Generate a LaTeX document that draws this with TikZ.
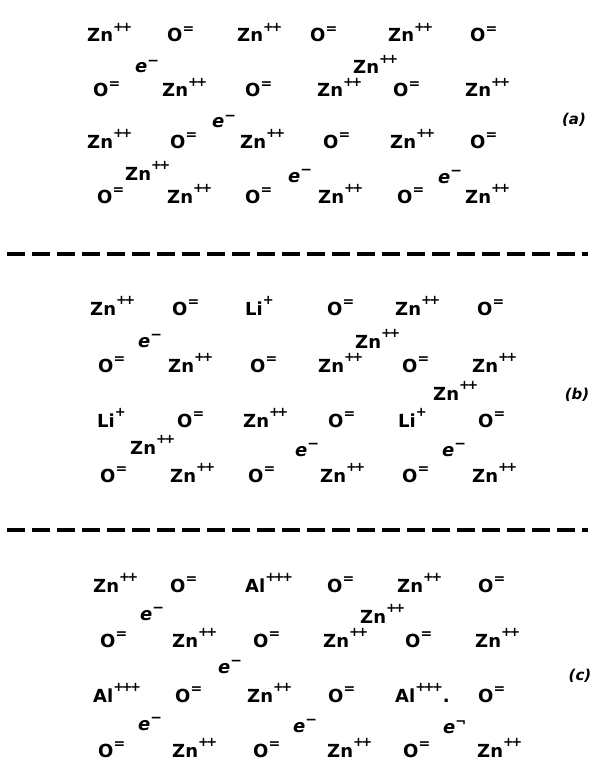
\documentclass[tikz,border=0pt]{standalone}
\usepackage{fontspec}
\setmainfont{DejaVu Sans}
\newcommand\ionsup[1]{\raisebox{10.5pt}{\fontsize{13}{13}\selectfont #1}}
\newcommand\ionsupeq[1]{\raisebox{8.5pt}{\fontsize{14}{14}\selectfont #1}}
\newcommand\ZnI{Zn\ionsup{+\kern-2.5pt+}}
\newcommand\OxI{O\ionsupeq{=}}
\newcommand\ElI{{\itshape e}\raisebox{7.5pt}{\fontsize{14}{14}\selectfont −}}
\newcommand\ElX{{\itshape e}\raisebox{6.5pt}{\fontsize{13}{13}\selectfont ¬}}
\newcommand\LiI{Li\ionsup{+}}
\newcommand\AlI{Al\ionsup{+\kern-2.5pt+\kern-2.5pt+}}
\begin{document}
\begin{tikzpicture}[x=1pt,y=-1pt,
  ion/.style={anchor=base west,inner sep=0pt,font=\bfseries\fontsize{18}{18}\selectfont},
  plabel/.style={anchor=center,inner sep=0pt,font=\bfseries\itshape\fontsize{15}{15}\selectfont},
  sep/.style={line width=3.5pt,dash pattern=on 18pt off 7pt}]
\useasboundingbox (0,0) rectangle (597,765);
% panel (a)
\foreach \x/\y/\t [count=\i] in {
 87/42/\ZnI, 167/42/\OxI, 237/42/\ZnI, 310/42/\OxI, 388/42/\ZnI, 470/42/\OxI,
 93/97/\OxI, 162/97/\ZnI, 245/97/\OxI, 317/97/\ZnI, 393/97/\OxI, 465/97/\ZnI,
 135/73/\ElI, 353/74/\ZnI,
 87/148/\ZnI, 170/148/\OxI, 240/148/\ZnI, 323/148/\OxI, 390/148/\ZnI, 470/148/\OxI,
 212/128/\ElI,
 97/203/\OxI, 167/203/\ZnI, 245/203/\OxI, 318/203/\ZnI, 397/203/\OxI, 465/203/\ZnI,
 125/180/\ZnI, 288/182/\ElI, 438/183/\ElI}
  \node[ion] (a\i) at (\x,\y) {\t};
\node[plabel] (la) at (574,120) {(a)};
\coordinate (d1l) at (7,254);
\coordinate (d1r) at (588,254);
\draw[sep] (d1l) -- (d1r);
% panel (b)
\foreach \x/\y/\t [count=\i] in {
 90/315/\ZnI, 172/315/\OxI, 245/315/\LiI, 327/315/\OxI, 395/315/\ZnI, 477/315/\OxI,
 98/372/\OxI, 168/372/\ZnI, 250/372/\OxI, 318/372/\ZnI, 402/372/\OxI, 472/372/\ZnI,
 138/347/\ElI, 355/348/\ZnI, 433/400/\ZnI,
 97/427/\LiI, 177/427/\OxI, 243/427/\ZnI, 328/427/\OxI, 398/427/\LiI, 478/427/\OxI,
 130/454/\ZnI, 295/456/\ElI, 442/456/\ElI,
 100/482/\OxI, 170/482/\ZnI, 248/482/\OxI, 320/482/\ZnI, 402/482/\OxI, 472/482/\ZnI}
  \node[ion] (b\i) at (\x,\y) {\t};
\node[plabel] (lb) at (577,395) {(b)};
\coordinate (d2l) at (7,530);
\coordinate (d2r) at (588,530);
\draw[sep] (d2l) -- (d2r);
% panel (c)
\foreach \x/\y/\t [count=\i] in {
 93/592/\ZnI, 170/592/\OxI, 245/592/\AlI, 327/592/\OxI, 397/592/\ZnI, 478/592/\OxI,
 100/647/\OxI, 172/647/\ZnI, 253/647/\OxI, 323/647/\ZnI, 405/647/\OxI, 475/647/\ZnI,
 140/620/\ElI, 360/623/\ZnI,
 93/702/\AlI, 175/702/\OxI, 247/702/\ZnI, 328/702/\OxI, 395/702/{\AlI.}, 478/702/\OxI,
 218/673/\ElI,
 98/757/\OxI, 172/757/\ZnI, 253/757/\OxI, 327/757/\ZnI, 403/757/\OxI, 477/757/\ZnI,
 138/730/\ElI, 293/732/\ElI, 443/733/\ElX}
  \node[ion] (c\i) at (\x,\y) {\t};
\node[plabel] (lc) at (580,676) {(c)};
\end{tikzpicture}
\end{document}
